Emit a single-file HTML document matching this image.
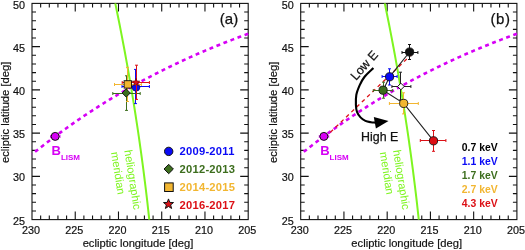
<!DOCTYPE html>
<html><head><meta charset="utf-8"><style>
html,body{margin:0;padding:0;background:#fff;}
svg{display:block;will-change:transform;}
text{font-family:"Liberation Sans", sans-serif;}
.t{font-size:10.8px;fill:#111;stroke:#111;stroke-width:0.2px;}
.ax{font-size:11.2px;fill:#111;stroke:#111;stroke-width:0.2px;}
.lab{font-size:15px;fill:#111;stroke:#111;stroke-width:0.25px;letter-spacing:0.5px;}
.hm{font-size:11.2px;fill:#7ef520;}
.bl{font-size:13px;font-weight:bold;fill:#d600f5;}
.lg{font-size:10.8px;font-weight:bold;}
.ly{letter-spacing:0.25px;font-size:11.2px;}
.le{font-size:12.4px;fill:#111;stroke:#111;stroke-width:0.25px;}
</style></head><body>
<svg width="525" height="250" viewBox="0 0 525 250">
<g>
<rect x="32.0" y="3.40" width="216.20" height="216.20" fill="none" stroke="#111" stroke-width="1.1"/>
<path d="M239.55 219.60v-4M239.55 3.40v4M230.90 219.60v-4M230.90 3.40v4M222.26 219.60v-4M222.26 3.40v4M213.61 219.60v-4M213.61 3.40v4M204.96 219.60v-8M204.96 3.40v8M196.31 219.60v-4M196.31 3.40v4M187.66 219.60v-4M187.66 3.40v4M179.02 219.60v-4M179.02 3.40v4M170.37 219.60v-4M170.37 3.40v4M161.72 219.60v-8M161.72 3.40v8M153.07 219.60v-4M153.07 3.40v4M144.42 219.60v-4M144.42 3.40v4M135.78 219.60v-4M135.78 3.40v4M127.13 219.60v-4M127.13 3.40v4M118.48 219.60v-8M118.48 3.40v8M109.83 219.60v-4M109.83 3.40v4M101.18 219.60v-4M101.18 3.40v4M92.54 219.60v-4M92.54 3.40v4M83.89 219.60v-4M83.89 3.40v4M75.24 219.60v-8M75.24 3.40v8M66.59 219.60v-4M66.59 3.40v4M57.94 219.60v-4M57.94 3.40v4M49.30 219.60v-4M49.30 3.40v4M40.65 219.60v-4M40.65 3.40v4M32.00 210.95h4M248.20 210.95h-4M32.00 202.30h4M248.20 202.30h-4M32.00 193.66h4M248.20 193.66h-4M32.00 185.01h4M248.20 185.01h-4M32.00 176.36h8M248.20 176.36h-8M32.00 167.71h4M248.20 167.71h-4M32.00 159.06h4M248.20 159.06h-4M32.00 150.42h4M248.20 150.42h-4M32.00 141.77h4M248.20 141.77h-4M32.00 133.12h8M248.20 133.12h-8M32.00 124.47h4M248.20 124.47h-4M32.00 115.82h4M248.20 115.82h-4M32.00 107.18h4M248.20 107.18h-4M32.00 98.53h4M248.20 98.53h-4M32.00 89.88h8M248.20 89.88h-8M32.00 81.23h4M248.20 81.23h-4M32.00 72.58h4M248.20 72.58h-4M32.00 63.94h4M248.20 63.94h-4M32.00 55.29h4M248.20 55.29h-4M32.00 46.64h8M248.20 46.64h-8M32.00 37.99h4M248.20 37.99h-4M32.00 29.34h4M248.20 29.34h-4M32.00 20.70h4M248.20 20.70h-4M32.00 12.05h4M248.20 12.05h-4" stroke="#111" stroke-width="1.1" fill="none"/>
<text x="25" y="224.70" text-anchor="end" class="t">25</text>
<text x="25" y="181.46" text-anchor="end" class="t">30</text>
<text x="25" y="138.22" text-anchor="end" class="t">35</text>
<text x="25" y="94.98" text-anchor="end" class="t">40</text>
<text x="25" y="51.74" text-anchor="end" class="t">45</text>
<text x="25" y="8.50" text-anchor="end" class="t">50</text>
<text x="247.20" y="233.6" text-anchor="middle" class="t">205</text>
<text x="203.96" y="233.6" text-anchor="middle" class="t">210</text>
<text x="160.72" y="233.6" text-anchor="middle" class="t">215</text>
<text x="117.48" y="233.6" text-anchor="middle" class="t">220</text>
<text x="74.24" y="233.6" text-anchor="middle" class="t">225</text>
<text x="31.00" y="233.6" text-anchor="middle" class="t">230</text>
<text x="138" y="246.8" text-anchor="middle" class="ax">ecliptic longitude [deg]</text>
<text transform="translate(8.7,112.4) rotate(-90)" text-anchor="middle" class="ax">ecliptic latitude [deg]</text>
<polyline points="115.29,3.40 116.43,8.94 117.56,14.49 118.67,20.03 119.78,25.57 120.86,31.12 121.93,36.66 122.99,42.21 124.04,47.75 125.06,53.29 126.08,58.84 127.08,64.38 128.07,69.92 129.04,75.47 129.99,81.01 130.94,86.55 131.87,92.10 132.78,97.64 133.68,103.18 134.57,108.73 135.44,114.27 136.29,119.82 137.14,125.36 137.97,130.90 138.78,136.45 139.58,141.99 140.36,147.53 141.14,153.08 141.89,158.62 142.63,164.16 143.36,169.71 144.07,175.25 144.77,180.79 145.46,186.34 146.13,191.88 146.79,197.43 147.43,202.97 148.05,208.51 148.67,214.06 149.27,219.60" fill="none" stroke="#7ef520" stroke-width="2.0"/>
<text transform="translate(124.3,150.5) rotate(81)" class="hm"><tspan x="0" y="0">heliographic</tspan><tspan x="0" y="13.4">meridian</tspan></text>
<polyline points="32.00,154.30 33.36,153.20 34.72,152.11 36.08,151.03 37.44,149.95 38.80,148.88 40.16,147.81 41.52,146.74 42.88,145.69 44.24,144.63 45.60,143.58 46.96,142.54 48.32,141.50 49.68,140.47 51.04,139.44 52.40,138.42 53.76,137.40 55.12,136.38 56.48,135.37 57.84,134.37 59.19,133.37 60.55,132.38 61.91,131.39 63.27,130.40 64.63,129.42 65.99,128.45 67.35,127.48 68.71,126.51 70.07,125.55 71.43,124.59 72.79,123.64 74.15,122.69 75.51,121.75 76.87,120.81 78.23,119.88 79.59,118.95 80.95,118.03 82.31,117.11 83.67,116.20 85.03,115.29 86.39,114.38 87.75,113.48 89.11,112.58 90.47,111.69 91.83,110.80 93.19,109.92 94.55,109.04 95.91,108.16 97.27,107.29 98.63,106.43 99.99,105.57 101.35,104.71 102.71,103.86 104.07,103.01 105.43,102.16 106.79,101.32 108.15,100.49 109.51,99.66 110.87,98.83 112.23,98.01 113.58,97.19 114.94,96.37 116.30,95.56 117.66,94.75 119.02,93.95 120.38,93.15 121.74,92.36 123.10,91.57 124.46,90.78 125.82,90.00 127.18,89.22 128.54,88.45 129.90,87.68 131.26,86.91 132.62,86.15 133.98,85.39 135.34,84.63 136.70,83.88 138.06,83.13 139.42,82.39 140.78,81.65 142.14,80.92 143.50,80.18 144.86,79.46 146.22,78.73 147.58,78.01 148.94,77.29 150.30,76.58 151.66,75.87 153.02,75.17 154.38,74.46 155.74,73.77 157.10,73.07 158.46,72.38 159.82,71.69 161.18,71.01 162.54,70.33 163.90,69.65 165.26,68.97 166.62,68.30 167.97,67.64 169.33,66.97 170.69,66.31 172.05,65.66 173.41,65.01 174.77,64.36 176.13,63.71 177.49,63.07 178.85,62.43 180.21,61.79 181.57,61.16 182.93,60.53 184.29,59.90 185.65,59.28 187.01,58.66 188.37,58.04 189.73,57.43 191.09,56.82 192.45,56.21 193.81,55.61 195.17,55.00 196.53,54.41 197.89,53.81 199.25,53.22 200.61,52.63 201.97,52.05 203.33,51.46 204.69,50.88 206.05,50.31 207.41,49.73 208.77,49.16 210.13,48.59 211.49,48.03 212.85,47.47 214.21,46.91 215.57,46.35 216.93,45.80 218.29,45.25 219.65,44.70 221.01,44.16 222.36,43.61 223.72,43.07 225.08,42.54 226.44,42.00 227.80,41.47 229.16,40.94 230.52,40.42 231.88,39.89 233.24,39.37 234.60,38.86 235.96,38.34 237.32,37.83 238.68,37.32 240.04,36.81 241.40,36.31 242.76,35.80 244.12,35.30 245.48,34.80 246.84,34.31 248.20,33.82" fill="none" stroke="#d600f5" stroke-width="2.6" stroke-dasharray="3.9 3.63" stroke-dashoffset="3.63"/>
<path d="M50.6 136.4h9.4M50.6 135v3M60 135v3" stroke="#d600f5" stroke-width="0.9"/>
<circle cx="55.2" cy="136.4" r="4.0" fill="#d600f5" stroke="#111" stroke-width="1"/>
<text x="51.5" y="154.7" class="bl">B<tspan style="font-size:8px" dy="5">LISM</tspan></text>
<path d="M122 86.5H149.4M135.5 69.4V103.6M122 85.0v3M149.4 85.0v3M134.0 69.4h3M134.0 103.6h3" stroke="#0a0af5" stroke-width="1" fill="none"/>
<circle cx="136" cy="87.3" r="3.9" fill="#0a0af5" stroke="#113" stroke-width="0.6"/>
<path d="M112.8 93.5H140.2M126.5 75.8V110.4M112.8 92.0v3M140.2 92.0v3M125.0 75.8h3M125.0 110.4h3" stroke="#3d6e1e" stroke-width="1" fill="none"/>
<path d="M114.5 84.5H141.4M127.5 67.4V101.5M114.5 83.0v3M141.4 83.0v3M126.0 67.4h3M126.0 101.5h3" stroke="#f2b631" stroke-width="1" fill="none"/>
<path d="M122.2 82.5H149.4M136.5 65.2V99.4M122.2 81.0v3M149.4 81.0v3M135.0 65.2h3M135.0 99.4h3" stroke="#dc1016" stroke-width="1" fill="none"/>
<polygon points="126.2,88.9 130.3,93 126.2,97.1 122.1,93" fill="#3d6e1e" stroke="#111" stroke-width="0.9"/>
<rect x="124.1" y="80.7" width="7.4" height="7.4" fill="#f2b631" stroke="#111" stroke-width="0.9"/>
<polygon points="136.00,78.40 136.99,81.04 139.80,81.16 137.60,82.92 138.35,85.64 136.00,84.08 133.65,85.64 134.40,82.92 132.20,81.16 135.01,81.04" fill="#dc1016" stroke="#600" stroke-width="0.6"/>
<text x="238.3" y="23.6" text-anchor="end" class="lab" style="letter-spacing:0.1px">(a)</text>
<circle cx="168.7" cy="151.4" r="4.2" fill="#0a0af5" stroke="#111" stroke-width="1"/>
<polygon points="168.7,164.3 173.4,169 168.7,173.7 164,169" fill="#3d6e1e" stroke="#111" stroke-width="1"/>
<rect x="164.6" y="182.9" width="8.6" height="8.6" fill="#f2b631" stroke="#111" stroke-width="1"/>
<polygon points="168.50,198.90 169.81,202.40 173.54,202.56 170.62,204.89 171.62,208.49 168.50,206.43 165.38,208.49 166.38,204.89 163.46,202.56 167.19,202.40" fill="#dc1016" stroke="#111" stroke-width="1"/>
<text x="179.5" y="155.30" class="lg ly" fill="#0a0af5">2009-2011</text>
<text x="179.5" y="173.20" class="lg ly" fill="#3d6e1e">2012-2013</text>
<text x="179.5" y="191.10" class="lg ly" fill="#f2b631">2014-2015</text>
<text x="179.5" y="209.00" class="lg ly" fill="#dc1016">2016-2017</text>
</g>
<g transform="translate(268.7,0)">
<rect x="32.0" y="3.40" width="216.20" height="216.20" fill="none" stroke="#111" stroke-width="1.1"/>
<path d="M239.55 219.60v-4M239.55 3.40v4M230.90 219.60v-4M230.90 3.40v4M222.26 219.60v-4M222.26 3.40v4M213.61 219.60v-4M213.61 3.40v4M204.96 219.60v-8M204.96 3.40v8M196.31 219.60v-4M196.31 3.40v4M187.66 219.60v-4M187.66 3.40v4M179.02 219.60v-4M179.02 3.40v4M170.37 219.60v-4M170.37 3.40v4M161.72 219.60v-8M161.72 3.40v8M153.07 219.60v-4M153.07 3.40v4M144.42 219.60v-4M144.42 3.40v4M135.78 219.60v-4M135.78 3.40v4M127.13 219.60v-4M127.13 3.40v4M118.48 219.60v-8M118.48 3.40v8M109.83 219.60v-4M109.83 3.40v4M101.18 219.60v-4M101.18 3.40v4M92.54 219.60v-4M92.54 3.40v4M83.89 219.60v-4M83.89 3.40v4M75.24 219.60v-8M75.24 3.40v8M66.59 219.60v-4M66.59 3.40v4M57.94 219.60v-4M57.94 3.40v4M49.30 219.60v-4M49.30 3.40v4M40.65 219.60v-4M40.65 3.40v4M32.00 210.95h4M248.20 210.95h-4M32.00 202.30h4M248.20 202.30h-4M32.00 193.66h4M248.20 193.66h-4M32.00 185.01h4M248.20 185.01h-4M32.00 176.36h8M248.20 176.36h-8M32.00 167.71h4M248.20 167.71h-4M32.00 159.06h4M248.20 159.06h-4M32.00 150.42h4M248.20 150.42h-4M32.00 141.77h4M248.20 141.77h-4M32.00 133.12h8M248.20 133.12h-8M32.00 124.47h4M248.20 124.47h-4M32.00 115.82h4M248.20 115.82h-4M32.00 107.18h4M248.20 107.18h-4M32.00 98.53h4M248.20 98.53h-4M32.00 89.88h8M248.20 89.88h-8M32.00 81.23h4M248.20 81.23h-4M32.00 72.58h4M248.20 72.58h-4M32.00 63.94h4M248.20 63.94h-4M32.00 55.29h4M248.20 55.29h-4M32.00 46.64h8M248.20 46.64h-8M32.00 37.99h4M248.20 37.99h-4M32.00 29.34h4M248.20 29.34h-4M32.00 20.70h4M248.20 20.70h-4M32.00 12.05h4M248.20 12.05h-4" stroke="#111" stroke-width="1.1" fill="none"/>
<text x="25" y="224.70" text-anchor="end" class="t">25</text>
<text x="25" y="181.46" text-anchor="end" class="t">30</text>
<text x="25" y="138.22" text-anchor="end" class="t">35</text>
<text x="25" y="94.98" text-anchor="end" class="t">40</text>
<text x="25" y="51.74" text-anchor="end" class="t">45</text>
<text x="25" y="8.50" text-anchor="end" class="t">50</text>
<text x="247.20" y="233.6" text-anchor="middle" class="t">205</text>
<text x="203.96" y="233.6" text-anchor="middle" class="t">210</text>
<text x="160.72" y="233.6" text-anchor="middle" class="t">215</text>
<text x="117.48" y="233.6" text-anchor="middle" class="t">220</text>
<text x="74.24" y="233.6" text-anchor="middle" class="t">225</text>
<text x="31.00" y="233.6" text-anchor="middle" class="t">230</text>
<text x="138" y="246.8" text-anchor="middle" class="ax">ecliptic longitude [deg]</text>
<text transform="translate(8.7,112.4) rotate(-90)" text-anchor="middle" class="ax">ecliptic latitude [deg]</text>
<polyline points="116.09,3.40 117.23,8.94 118.36,14.49 119.47,20.03 120.58,25.57 121.66,31.12 122.73,36.66 123.79,42.21 124.84,47.75 125.86,53.29 126.88,58.84 127.88,64.38 128.87,69.92 129.84,75.47 130.79,81.01 131.74,86.55 132.67,92.10 133.58,97.64 134.48,103.18 135.37,108.73 136.24,114.27 137.09,119.82 137.94,125.36 138.77,130.90 139.58,136.45 140.38,141.99 141.16,147.53 141.94,153.08 142.69,158.62 143.43,164.16 144.16,169.71 144.87,175.25 145.57,180.79 146.26,186.34 146.93,191.88 147.59,197.43 148.23,202.97 148.85,208.51 149.47,214.06 150.07,219.60" fill="none" stroke="#7ef520" stroke-width="2.0"/>
<text transform="translate(124.3,150.5) rotate(81)" class="hm"><tspan x="0" y="0">heliographic</tspan><tspan x="0" y="13.4">meridian</tspan></text>
<polyline points="32.00,154.30 33.36,153.20 34.72,152.11 36.08,151.03 37.44,149.95 38.80,148.88 40.16,147.81 41.52,146.74 42.88,145.69 44.24,144.63 45.60,143.58 46.96,142.54 48.32,141.50 49.68,140.47 51.04,139.44 52.40,138.42 53.76,137.40 55.12,136.38 56.48,135.37 57.84,134.37 59.19,133.37 60.55,132.38 61.91,131.39 63.27,130.40 64.63,129.42 65.99,128.45 67.35,127.48 68.71,126.51 70.07,125.55 71.43,124.59 72.79,123.64 74.15,122.69 75.51,121.75 76.87,120.81 78.23,119.88 79.59,118.95 80.95,118.03 82.31,117.11 83.67,116.20 85.03,115.29 86.39,114.38 87.75,113.48 89.11,112.58 90.47,111.69 91.83,110.80 93.19,109.92 94.55,109.04 95.91,108.16 97.27,107.29 98.63,106.43 99.99,105.57 101.35,104.71 102.71,103.86 104.07,103.01 105.43,102.16 106.79,101.32 108.15,100.49 109.51,99.66 110.87,98.83 112.23,98.01 113.58,97.19 114.94,96.37 116.30,95.56 117.66,94.75 119.02,93.95 120.38,93.15 121.74,92.36 123.10,91.57 124.46,90.78 125.82,90.00 127.18,89.22 128.54,88.45 129.90,87.68 131.26,86.91 132.62,86.15 133.98,85.39 135.34,84.63 136.70,83.88 138.06,83.13 139.42,82.39 140.78,81.65 142.14,80.92 143.50,80.18 144.86,79.46 146.22,78.73 147.58,78.01 148.94,77.29 150.30,76.58 151.66,75.87 153.02,75.17 154.38,74.46 155.74,73.77 157.10,73.07 158.46,72.38 159.82,71.69 161.18,71.01 162.54,70.33 163.90,69.65 165.26,68.97 166.62,68.30 167.97,67.64 169.33,66.97 170.69,66.31 172.05,65.66 173.41,65.01 174.77,64.36 176.13,63.71 177.49,63.07 178.85,62.43 180.21,61.79 181.57,61.16 182.93,60.53 184.29,59.90 185.65,59.28 187.01,58.66 188.37,58.04 189.73,57.43 191.09,56.82 192.45,56.21 193.81,55.61 195.17,55.00 196.53,54.41 197.89,53.81 199.25,53.22 200.61,52.63 201.97,52.05 203.33,51.46 204.69,50.88 206.05,50.31 207.41,49.73 208.77,49.16 210.13,48.59 211.49,48.03 212.85,47.47 214.21,46.91 215.57,46.35 216.93,45.80 218.29,45.25 219.65,44.70 221.01,44.16 222.36,43.61 223.72,43.07 225.08,42.54 226.44,42.00 227.80,41.47 229.16,40.94 230.52,40.42 231.88,39.89 233.24,39.37 234.60,38.86 235.96,38.34 237.32,37.83 238.68,37.32 240.04,36.81 241.40,36.31 242.76,35.80 244.12,35.30 245.48,34.80 246.84,34.31 248.20,33.82" fill="none" stroke="#d600f5" stroke-width="2.6" stroke-dasharray="3.9 3.63" stroke-dashoffset="3.63"/>
<line x1="56.3" y1="137.4" x2="143.3" y2="54.0" stroke="#dc1016" stroke-width="1.3" stroke-dasharray="3.8 3.5"/>
<polyline points="140.9,52 120.9,76.8 114.4,90.2 135,103.4 164.8,140.8" fill="none" stroke="#222" stroke-width="1.1"/>
<path d="M123.2 86.5H142.2M131.8 72.2V100M123.2 85.0v3M142.2 85.0v3M130.3 72.2h3M130.3 100h3" stroke="#222" stroke-width="1" fill="none"/>
<path d="M133.3 52.5H149.2M140.8 44.5V59.5M133.3 51.0v3M149.2 51.0v3M139.3 44.5h3M139.3 59.5h3" stroke="#111" stroke-width="1" fill="none"/>
<path d="M113.4 76.5H128.4M120.8 68.8V85M113.4 75.0v3M128.4 75.0v3M119.3 68.8h3M119.3 85h3" stroke="#0a0af5" stroke-width="1" fill="none"/>
<path d="M104.6 90.5H123.6M114.8 82.2V98.2M104.6 89.0v3M123.6 89.0v3M113.3 82.2h3M113.3 98.2h3" stroke="#3d6e1e" stroke-width="1" fill="none"/>
<path d="M120.7 103.5H149.6M134.8 92.8V113.9M120.7 102.0v3M149.6 102.0v3M133.3 92.8h3M133.3 113.9h3" stroke="#f2b631" stroke-width="1" fill="none"/>
<path d="M151.6 140.5H177.2M164.8 130.5V151.3M151.6 139.0v3M177.2 139.0v3M163.3 130.5h3M163.3 151.3h3" stroke="#dc1016" stroke-width="1" fill="none"/>
<circle cx="140.9" cy="52" r="4.1" fill="#111" stroke="#111" stroke-width="0.9"/>
<circle cx="120.9" cy="76.8" r="4.1" fill="#0a0af5" stroke="#111" stroke-width="0.9"/>
<circle cx="114.4" cy="90.2" r="4.1" fill="#3d6e1e" stroke="#111" stroke-width="0.9"/>
<circle cx="135" cy="103.4" r="4.1" fill="#f2b631" stroke="#111" stroke-width="0.9"/>
<circle cx="164.8" cy="140.8" r="4.1" fill="#dc1016" stroke="#111" stroke-width="0.9"/>
<polygon points="132.2,83.2 135.5,86.5 132.2,89.8 128.9,86.5" fill="#fff" stroke="#111" stroke-width="1"/>
<path d="M104.7,68.0C103.2,69.5 98.0,74.1 95.7,77.0C93.4,79.9 92.2,82.4 90.9,85.4C89.6,88.4 88.2,91.7 87.6,95.0C87.0,98.3 87.1,102.2 87.2,105.0C87.3,107.8 87.5,109.7 88.3,111.8C89.1,113.9 90.4,115.9 91.8,117.4C93.2,118.9 95.0,120.1 96.7,120.9C98.5,121.7 100.7,122.0 102.3,122.3C103.9,122.6 105.8,122.5 106.5,122.6" fill="none" stroke="#000" stroke-width="2.1"/>
<polygon points="105.1,117.1 119.8,120.9 107.2,128.6" fill="#000"/>
<text transform="translate(87.2,81) rotate(-48.5)" class="le" style="font-size:12.4px">Low E</text>
<text x="92.4" y="140.9" class="le">High E</text>
<text x="241.7" y="23.6" text-anchor="end" class="lab">(b)</text>
<text x="193.1" y="151.30" class="lg" style="font-size:10.4px" fill="#000">0.7 keV</text>
<text x="193.1" y="165.25" class="lg" style="font-size:10.4px" fill="#0a0af5">1.1 keV</text>
<text x="193.1" y="179.20" class="lg" style="font-size:10.4px" fill="#3d6e1e">1.7 keV</text>
<text x="193.1" y="193.15" class="lg" style="font-size:10.4px" fill="#f2b631">2.7 keV</text>
<text x="193.1" y="207.10" class="lg" style="font-size:10.4px" fill="#dc1016">4.3 keV</text>
<path d="M50.6 136.4h9.4M50.6 135v3M60 135v3" stroke="#d600f5" stroke-width="0.9"/>
<circle cx="55.2" cy="136.4" r="4.0" fill="#d600f5" stroke="#111" stroke-width="1"/>
<text x="51.5" y="154.7" class="bl">B<tspan style="font-size:8px" dy="5">LISM</tspan></text>
</g>
</svg>
</body></html>
